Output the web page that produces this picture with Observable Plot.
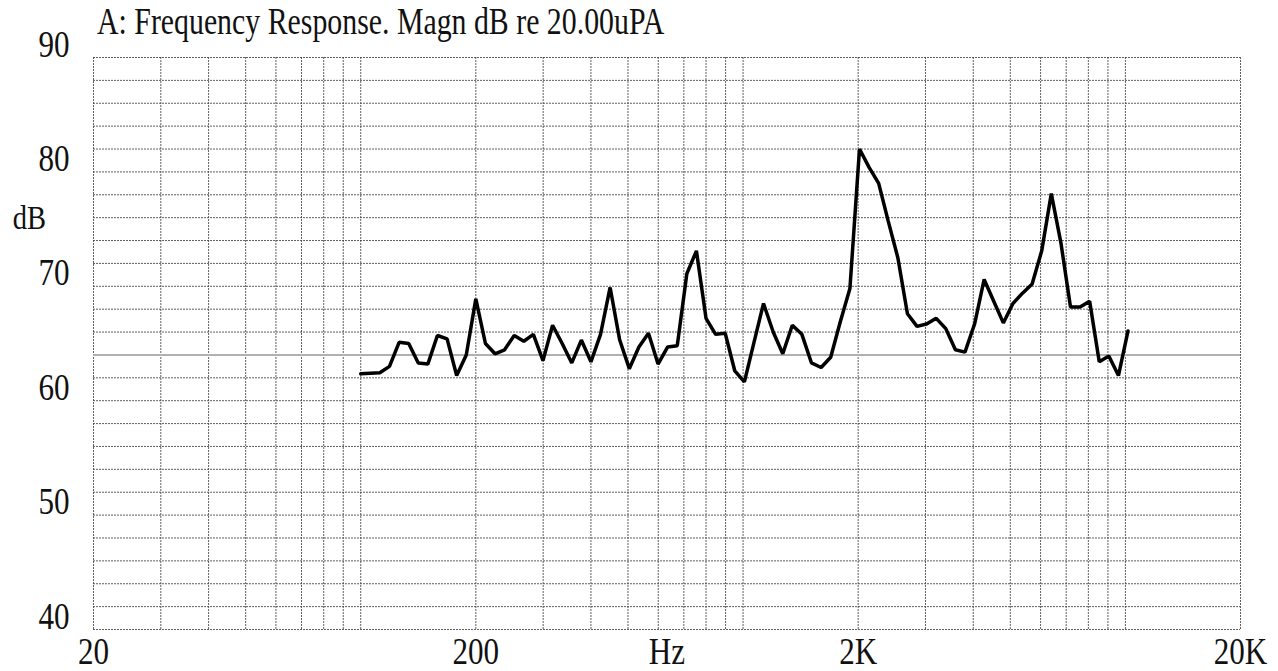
<!DOCTYPE html>
<html><head><meta charset="utf-8">
<script src="https://cdn.jsdelivr.net/npm/d3@7"></script>
<script src="https://cdn.jsdelivr.net/npm/@observablehq/plot@0.6"></script>
<style>
body{margin:0;background:#fff;width:1278px;height:671px;overflow:hidden;font-family:"Liberation Serif","Times New Roman",serif;}
#title{position:absolute;left:97px;top:2px;font-size:38px;line-height:38px;white-space:nowrap;transform-origin:0 0;transform:scaleX(0.785);color:#111;z-index:2;}
#chart{position:absolute;left:0;top:14px;}
</style></head><body>
<div id="title">A: Frequency Response. Magn dB re 20.00uPA</div>
<div id="chart"></div>
<script>
const freqHz = [100,105.9,112.2,118.9,126,133.5,141.4,149.8,158.7,168.2,178.2,188.8,
  200,211.9,224.5,237.8,252,267,282.8,299.7,317.5,336.4,356.4,377.6,
  400,423.8,449,475.7,504,534,565.7,599.3,635,672.7,712.7,755.1,
  800,847.6,898,951.4,1008,1068,1131,1199,1270,1345,1425,1510,
  1600,1695,1796,1903,2016,2136,2263,2397,2540,2691,2851,3020,
  3200,3390,3592,3805,4032,4271,4525,4794,5080,5382,5702,6041,
  6400,6781,7184,7611,8063,8543,9051,9589,10159];
const levelDb = [62.35,62.4,62.45,63.0,65.1,65.0,63.3,63.2,65.7,65.4,62.2,64.0,
  68.9,65.0,64.1,64.45,65.7,65.2,65.8,63.5,66.6,65.0,63.3,65.3,
  63.4,65.8,69.9,65.3,62.8,64.7,65.9,63.2,64.7,64.8,71.1,73.1,
  67.2,65.8,65.9,62.6,61.65,65.1,68.5,66.0,64.1,66.6,65.8,63.3,
  62.9,63.8,66.9,69.8,82.0,80.4,79.0,75.7,72.5,67.6,66.5,66.7,
  67.2,66.3,64.45,64.25,66.7,70.6,68.7,66.8,68.5,69.4,70.2,73.1,
  78.1,73.8,68.2,68.2,68.7,63.4,63.9,62.2,66.1];
const xGridHz = [20,30,40,50,60,70,80,90,100,200,300,400,500,600,700,800,900,1000,
  2000,3000,4000,5000,6000,7000,8000,9000,10000,20000];
const yGridDb = [40,42,44,46,48,50,52,54,56,58,60,62,64,66,68,70,72,74,76,78,80,82,84,86,88,90];
const refDb = [64];
const xTickHz = [20,200,2000,20000];
const xTickLabels = ["20","200","2K","20K"];
const yTickDb = [40,50,60,70,80,90];
const yTickLabels = ["40","50","60","70","80","90"];
const xAxisLabel = "Hz";
const yAxisLabel = "dB";
const yAxisLabelAt = [76];

const data = freqHz.map((f, i) => ({f, db: levelDb[i]}));

const plot = Plot.plot({
  width: 1278, height: 657,
  marginLeft: 93, marginRight: 38, marginTop: 43, marginBottom: 42,
  x: {type: "log", domain: [20, 20000], axis: null},
  y: {domain: [40, 90], axis: null},
  style: {fontFamily: "'Liberation Serif', 'Times New Roman', serif", background: "transparent", color: "#111"},
  marks: [
    Plot.ruleY(yGridDb, {y: d => d, stroke: "#444", strokeWidth: 1, strokeDasharray: "2,1", strokeOpacity: 0.85}),
    Plot.ruleX(xGridHz, {x: d => d, stroke: "#444", strokeWidth: 1, strokeDasharray: "2,1", strokeOpacity: 0.85}),
    Plot.ruleY(refDb, {y: d => d, stroke: "#b0b0b0", strokeWidth: 2}),
    Plot.line(data, {x: "f", y: "db", stroke: "#000", strokeWidth: 3.5, strokeLinejoin: "miter"}),
    Plot.text(xTickHz, {x: d => d, text: (d, i) => xTickLabels[i], frameAnchor: "bottom", lineAnchor: "bottom", dy: 34, fontSize: 37, fill: "#111", className: "cond"}),
    Plot.text(yTickDb, {y: d => d, text: (d, i) => yTickLabels[i], frameAnchor: "left", textAnchor: "end", lineAnchor: "bottom", dx: -24, dy: -1, fontSize: 37, fill: "#111", className: "cond"}),
    Plot.text([xAxisLabel], {text: d => d, frameAnchor: "bottom", lineAnchor: "bottom", dy: 34, fontSize: 37, fill: "#111", className: "cond"}),
    Plot.text(yAxisLabelAt, {y: d => d, text: () => yAxisLabel, frameAnchor: "left", textAnchor: "middle", lineAnchor: "middle", dx: -64, fontSize: 34, fill: "#111", className: "cond"})
  ]
});
document.getElementById("chart").appendChild(plot);
d3.select(plot).selectAll("g.cond text").each(function() {
  const L = this.getComputedTextLength();
  this.setAttribute("textLength", (L * 0.84).toFixed(1));
  this.setAttribute("lengthAdjust", "spacingAndGlyphs");
});
</script>
</body></html>
